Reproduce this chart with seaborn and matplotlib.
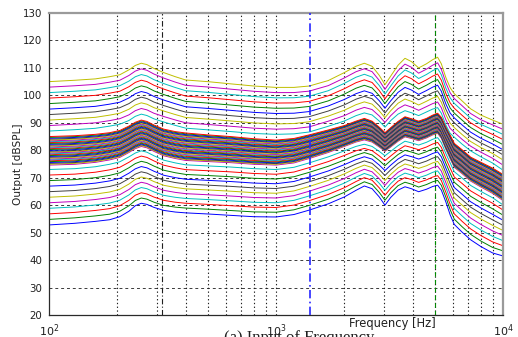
import numpy as np
import pandas as pd
import matplotlib
matplotlib.use("Agg")
import matplotlib.pyplot as plt
import seaborn as sns

# ---- data ----
freqs = [100, 130, 160, 185, 205, 225, 240, 255, 270, 290, 320, 360, 400, 500, 630,
         800, 1000, 1200, 1400, 1700, 2000, 2250, 2450, 2650, 2850, 3020, 3200, 3450,
         3700, 3950, 4250, 4600, 4900, 5150, 5350, 5600, 5850, 6100, 6600, 7200, 8000,
         9000, 10000]

# loudest (top) curve and the spacing of the upper spread of curves
top_curve = [105, 105.5, 106, 106.8, 107.5, 109.3, 110.9, 111.7, 111.2, 109.8, 108.3,
             106.8, 105.6, 105, 104.2, 103.4, 102.9, 102.9, 103.4, 105.4, 108.3, 110.6,
             111.7, 110.6, 107.3, 103.9, 107, 111, 113.5, 112.3, 110, 111.5, 113, 113.9,
             111.5, 106.5, 102.8, 100.6, 98.0, 95.1, 92.8, 91, 89.5]
upper_step = [2.0, 2.0, 2.0, 2.0, 2.0, 2.05, 2.06, 2.06, 2.06, 2.04, 2.0, 1.97, 1.95,
              1.95, 1.93, 1.92, 1.9, 1.88, 1.86, 1.85, 1.96, 2.0, 2.01, 1.97, 1.85, 1.72,
              1.8, 1.98, 2.12, 2.07, 1.93, 1.95, 2.0, 2.04, 2.0, 1.92, 1.85, 1.76, 1.75,
              1.7, 1.69, 1.74, 1.86]

# dense middle bundle: upper edge and total width
bundle_top = [85, 85.3, 85.8, 86.4, 87.2, 88.8, 90.2, 91, 90.5, 89.2, 87.7, 86.8, 86.3,
              85.6, 85, 84.2, 83.7, 84.3, 85.6, 87.4, 89.0, 90.6, 91.6, 90.6, 88.4, 86.4,
              88.2, 90.5, 92.2, 91.5, 90.6, 91.6, 92.8, 93.5, 92.0, 88.5, 85.5, 82.5,
              80.2, 77.5, 75.6, 73.5, 71.2]
bundle_width = [10.4, 10.4, 10.2, 9.9, 9.8, 9.6, 9.6, 9.6, 9.6, 9.6, 9.7, 9.8, 10, 9.7,
                9.5, 9.3, 9.1, 8.9, 8.6, 8.2, 7.6, 7.6, 7.8, 7.6, 7.2, 6.8, 7.0, 7.2, 7.3,
                7.2, 7.1, 7.1, 7.2, 7.3, 7.6, 8.1, 8.5, 8.7, 8.7, 8.7, 9, 9.2, 9.5]

# quietest (bottom) curve and the spacing of the lower spread of curves
bottom_curve = [52.8, 53.4, 54.1, 54.7, 55.8, 57.8, 59.8, 60.7, 60.3, 59.2, 58.1, 57.5,
                57.2, 56.8, 56.3, 55.8, 55.7, 56.6, 58.2, 60.5, 63.0, 65.4, 67.0, 66.0,
                63.0, 60.0, 62.8, 65.5, 66.7, 66.0, 64.9, 65.8, 66.8, 67.3, 65.5, 61.2,
                56.5, 53.0, 50.2, 47.4, 44.9, 42.6, 41.5]
lower_step = [2.02, 1.99, 1.99, 2.02, 2.0, 1.98, 1.92, 1.91, 1.90, 1.88, 1.83, 1.79,
              1.75, 1.75, 1.76, 1.75, 1.73, 1.72, 1.72, 1.71, 1.68, 1.60, 1.52, 1.54,
              1.66, 1.80, 1.68, 1.62, 1.66, 1.67, 1.70, 1.71, 1.72, 1.73, 1.73, 1.76,
              1.89, 1.92, 1.97, 1.98, 2.01, 2.01, 1.86]

n_lower, n_bundle, n_upper = 11, 34, 10

x_ticks = [100, 1000, 10000]
x_tick_labels = [r"$10^2$", r"$10^3$", r"$10^4$"]
y_ticks = list(range(20, 131, 10))
minor_grid = [200, 300, 400, 500, 600, 700, 800, 900, 1000,
              2000, 3000, 4000, 5000, 6000, 7000, 8000, 9000]
marker_black = 316
marker_blue = 1414
marker_green = 5000

matlab_colors = [(0, 0, 1), (0, 0.5, 0), (1, 0, 0), (0, 0.75, 0.75),
                 (0.75, 0, 0.75), (0.75, 0.75, 0), (0.25, 0.25, 0.25)]

# ---- build long table ----
bc = np.array(bottom_curve); lst = np.array(lower_step)
bt = np.array(bundle_top); bw = np.array(bundle_width)
tc = np.array(top_curve); us = np.array(upper_step)
curves = []
for k in range(n_lower):
    curves.append(bc + k * lst)
for k in range(n_bundle):
    curves.append(bt - bw + k * bw / (n_bundle - 1))
for k in range(n_upper):
    curves.append(tc - (n_upper - 1 - k) * us)

frames = []
for i, c in enumerate(curves):
    frames.append(pd.DataFrame({"freq": freqs, "level": c, "curve": i}))
df = pd.concat(frames, ignore_index=True)
palette = {i: matlab_colors[i % 7] for i in range(len(curves))}

# ---- figure ----
sns.set_style("white")
plt.rcParams["font.family"] = ["DejaVu Sans"]
fig = plt.figure(figsize=(5.18, 3.37), dpi=100)
ax = fig.add_axes([49 / 518, 1 - 315 / 337, 454 / 518, 302 / 337])

for y in y_ticks[1:-1]:
    ax.axhline(y, color="#3a3a3a", lw=0.7, ls=(0, (3, 3)), zorder=0.5)
for fx in minor_grid:
    ax.axvline(fx, color="#202020", lw=0.8, ls=(0, (1.2, 2.2)), zorder=0.5)
ax.axvline(marker_black, color="#202020", lw=0.8, ls=(0, (5, 2, 1, 2)), zorder=0.6)
ax.axvline(marker_green, color=(0, 0.55, 0), lw=0.8, ls=(0, (4, 3)), zorder=0.6)

sns.lineplot(data=df, x="freq", y="level", hue="curve", palette=palette,
             hue_order=list(range(len(curves))), legend=False, estimator=None,
             sort=False, linewidth=0.7, ax=ax, zorder=2)

ax.axvline(marker_blue, color=(0.15, 0.15, 1), lw=1.2, ls=(0, (5, 2, 1, 2)), zorder=3)

ax.set_xscale("log")
ax.set_xlim(100, 10000)
ax.set_ylim(20, 130)
ax.set_xticks(x_ticks)
ax.set_xticklabels(x_tick_labels, fontsize=8)
ax.xaxis.set_minor_locator(matplotlib.ticker.NullLocator())
ax.set_yticks(y_ticks)
ax.set_yticklabels([str(v) for v in y_ticks], fontsize=7.4)
ax.tick_params(length=0, pad=5, colors="#202020")
ax.set_xlabel("")
ax.set_ylabel("")

for s in ["left", "bottom"]:
    ax.spines[s].set_color("#2a2a2a"); ax.spines[s].set_linewidth(0.9)
for s in ["top", "right"]:
    ax.spines[s].set_color("#9a9a9a"); ax.spines[s].set_linewidth(1.6)

fig.text(18 / 518, 1 - 164 / 337, "Output [dBSPL]", rotation=90, ha="center",
         va="center", fontsize=7.6, color="#202020")
fig.text(392 / 518, 1 - 324 / 337, "Frequency [Hz]", ha="center", va="center",
         fontsize=8.3, color="#202020")
fig.text(224 / 518, 1 - 330 / 337, "(a) Input of Frequency", ha="left", va="top",
         fontsize=12, family="Liberation Serif", color="#202020")

fig.savefig("out.png", dpi=100)
